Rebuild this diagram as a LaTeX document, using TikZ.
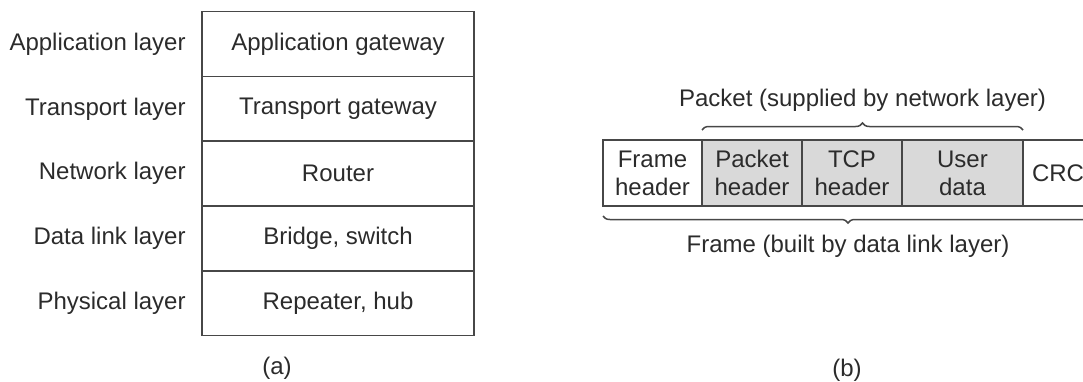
\documentclass[tikz,border=0pt]{standalone}
\usepackage{fontspec}
\setmainfont{Liberation Sans}
\usepackage{tikz}
\usetikzlibrary{positioning, decorations.pathreplacing}
\definecolor{linegray}{HTML}{474747}
\definecolor{cellgray}{HTML}{D9D9D9}
\definecolor{inkgray}{HTML}{2B2B2B}

\begin{document}
\begin{tikzpicture}[x=0.5pt,y=-0.5pt,node distance=0pt,
        every node/.style={font=\fontsize{12}{14}\selectfont,text=inkgray}]
        \tikzstyle{layer}=[draw=linegray,line width=0.75pt,minimum width=136pt,minimum height=32.4pt,inner sep=0pt,outer sep=0pt]
        \tikzstyle{lbl}=[inner sep=0pt,anchor=east]
        \tikzstyle{field}=[draw=linegray,line width=0.75pt,minimum height=33pt,inner sep=0pt,outer sep=0pt,align=center]
        \tikzstyle{hdr}=[field,fill=cellgray]
        \tikzstyle{brc}=[decorate,decoration={brace,amplitude=3.5pt,raise=5pt},draw=linegray,line width=0.75pt]
        \useasboundingbox (0,0) rectangle (1083,381);
        \clip (0,0) rectangle (1083,381);
        % (a) devices per layer
        \node[layer](app) at (338,44){Application gateway};
        \node[layer](trn)[below=of app]{Transport gateway};
        \node[layer](net)[below=of trn]{Router};
        \node[layer](dll)[below=of net]{Bridge, switch};
        \node[layer](phy)[below=of dll]{Repeater, hub};
        \node[lbl](appl)[left=8pt of app]{Application layer};
        \node[lbl](trnl)[left=8pt of trn]{Transport layer};
        \node[lbl](netl)[left=8pt of net]{Network layer};
        \node[lbl](dlll)[left=8pt of dll]{Data link layer};
        \node[lbl](phyl)[left=8pt of phy]{Physical layer};
        \node(capa) at (277,368){(a)};
        % (b) frame, packet and headers
        \node[field,minimum width=49.5pt](fh) at (652.5,173){Frame\\header};
        \node[hdr,minimum width=50pt](ph)[right=of fh]{Packet\\header};
        \node[hdr,minimum width=50pt](tcp)[right=of ph]{TCP\\header};
        \node[hdr,minimum width=60.5pt](ud)[right=of tcp]{User\\data};
        \node[field,minimum width=35pt](crc)[right=of ud]{CRC};
        \draw[brc] (ph.north west) -- (ud.north east)
            node[midway,above=14pt,inner sep=0pt](pkt){Packet (supplied by network layer)};
        \draw[brc,decoration={mirror}] (fh.south west) -- (crc.south east)
            node[midway,below=14pt,inner sep=0pt](frm){Frame (built by data link layer)};
        \node(capb) at (847,370){(b)};
\end{tikzpicture}
\end{document}
